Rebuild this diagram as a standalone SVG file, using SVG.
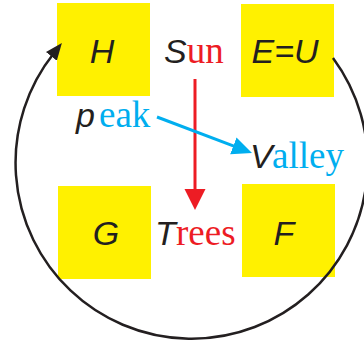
<svg xmlns="http://www.w3.org/2000/svg" width="364" height="345" viewBox="0 0 364 345">
<style>
.box{fill:#FFF100}
.sans{font-family:"Liberation Sans",Arial,sans-serif;font-style:italic;font-size:34px;fill:#231F20}
.serif{font-family:"Liberation Serif","Times New Roman",serif;font-size:37px;font-style:normal}
.red{fill:#ED1C24}
.cyan{fill:#00AEEF}
</style>
<defs>
<marker id="ab" markerUnits="userSpaceOnUse" markerWidth="18" markerHeight="15" refX="4" refY="7" orient="auto"><path d="M0,0 L17,7 L0,14 z" fill="#231F20"/></marker>
<marker id="ar" markerUnits="userSpaceOnUse" markerWidth="22" markerHeight="22" refX="1" refY="10.5" orient="auto"><path d="M0,0 L21,10.5 L0,21 z" fill="#ED1C24"/></marker>
<marker id="ac" markerUnits="userSpaceOnUse" markerWidth="21" markerHeight="19" refX="2" refY="9" orient="auto"><path d="M0,0 L20,9 L0,18 z" fill="#00AEEF"/></marker>
</defs>
<g id="H"><rect class="box" x="57" y="3" width="93" height="93"/><text class="sans" x="102" y="63" text-anchor="middle">H</text></g>
<g id="EU"><rect class="box" x="241" y="4" width="93" height="93"/><text class="sans" x="285" y="63" text-anchor="middle">E=U</text></g>
<g id="G"><rect class="box" x="58" y="186" width="93" height="93"/><text class="sans" x="106" y="245" text-anchor="middle">G</text></g>
<g id="F"><rect class="box" x="242" y="184" width="93" height="93"/><text class="sans" x="284" y="245" text-anchor="middle">F</text></g>
<g id="Sun"><text class="sans" x="164" y="63">S<tspan class="serif red">un</tspan></text></g>
<g id="Trees"><text class="sans" x="155" y="245">T<tspan class="serif red" x="176">rees</tspan></text></g>
<g id="peak"><text class="sans" x="76" y="127">p<tspan class="serif cyan" x="99">eak</tspan></text></g>
<g id="Valley"><text class="sans" x="250" y="168">V<tspan class="serif cyan" x="272">alley</tspan></text></g>
<g id="connectors" fill="none">
<path d="M195,79 L195,190" stroke="#ED1C24" stroke-width="3" marker-end="url(#ar)"/>
<path d="M157,117 L235.2,146.6" stroke="#00AEEF" stroke-width="3" marker-end="url(#ac)"/>
<path d="M333,58 A176 176 0 1 1 53.8,53.2" stroke="#231F20" stroke-width="2.5" marker-end="url(#ab)"/>
</g>
</svg>
